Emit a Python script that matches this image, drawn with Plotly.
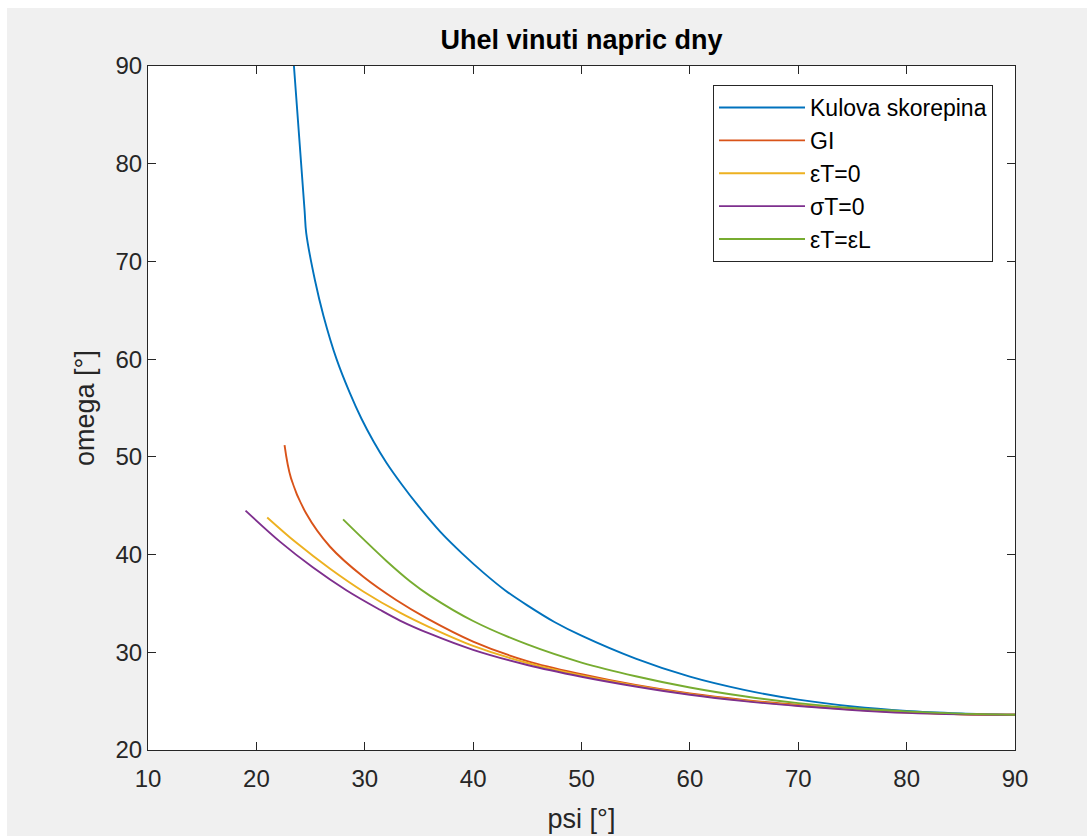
import plotly.graph_objects as go

# ---- data ----
psi_kulova = [23.0, 24.45, 24.6, 25.4, 26.2, 27.4, 28.6, 29.7, 30.8, 32.0, 33.4, 35.0, 37.0,
              39.0, 41.0, 43.0, 45.0, 47.5, 50.0, 55.0, 60.0, 65.0, 70.0, 75.0, 80.0, 85.0, 90.0]
omega_kulova = [97.0, 75.2, 72.9, 68.1, 64.4, 60.0, 56.6, 53.9, 51.6, 49.4, 47.2, 44.9, 42.3,
                40.1, 38.1, 36.3, 34.8, 33.1, 31.7, 29.35, 27.5, 26.15, 25.15, 24.45, 24.0, 23.75, 23.6]

psi_gl = [22.6, 23.2, 24.6, 26.8, 29.9, 32.9, 35.7, 40.0, 45.0, 50.0, 55.0, 60.0, 65.0,
          70.0, 75.0, 80.0, 85.0, 90.0]
omega_gl = [51.2, 47.8, 44.2, 40.8, 37.7, 35.35, 33.5, 31.1, 29.1, 27.75, 26.65, 25.78, 25.12,
            24.62, 24.17, 23.85, 23.66, 23.6]

psi_epsT0 = [21.0, 23.7, 26.8, 29.9, 33.25, 36.0, 40.0, 45.0, 50.0, 55.0, 60.0, 65.0,
             70.0, 75.0, 80.0, 85.0, 90.0]
omega_epsT0 = [43.8, 41.2, 38.55, 36.2, 34.05, 32.55, 30.65, 28.9, 27.62, 26.58, 25.72, 25.05,
               24.55, 24.13, 23.82, 23.66, 23.6]

psi_sigT0 = [19.0, 22.2, 25.2, 28.3, 31.4, 33.25, 36.0, 40.0, 45.0, 50.0, 55.0, 60.0, 65.0,
             70.0, 75.0, 80.0, 85.0, 90.0]
omega_sigT0 = [44.5, 41.3, 38.7, 36.35, 34.35, 33.25, 31.9, 30.25, 28.7, 27.5, 26.5, 25.65, 25.0,
               24.5, 24.1, 23.8, 23.65, 23.6]

psi_epsTL = [28.0, 29.9, 32.0, 34.2, 36.0, 40.0, 45.0, 50.0, 55.0, 60.0, 65.0, 70.0, 75.0,
             80.0, 85.0, 90.0]
omega_epsTL = [43.6, 41.55, 39.35, 37.25, 35.8, 33.2, 30.8, 28.95, 27.55, 26.4, 25.5, 24.8, 24.3,
               23.95, 23.72, 23.6]

series_names = ["Kulova skorepina", "GI", "\u03b5T=0", "\u03c3T=0", "\u03b5T=\u03b5L"]
series_colors = ["#0072BD", "#D95319", "#EDB120", "#7E2F8E", "#77AC30"]
x_ticks = [10, 20, 30, 40, 50, 60, 70, 80, 90]
y_ticks = [20, 30, 40, 50, 60, 70, 80, 90]

W, H = 1087, 836
L, R, T, B = 148, 1015, 66, 750

fig = go.Figure()
data = [(psi_kulova, omega_kulova), (psi_gl, omega_gl), (psi_epsT0, omega_epsT0),
        (psi_sigT0, omega_sigT0), (psi_epsTL, omega_epsTL)]
for (xs, ys), name, col in zip(data, series_names, series_colors):
    fig.add_trace(go.Scatter(x=xs, y=ys, mode="lines", name=name,
                             line=dict(color=col, width=1.9, shape="spline", smoothing=1.0)))

axis_col = "#262626"
font_fam = "Liberation Sans, Arial, sans-serif"

fig.update_layout(
    width=W, height=H,
    margin=dict(l=L, r=W - R, t=T, b=H - B, autoexpand=False),
    paper_bgcolor="#f0f0f0",
    plot_bgcolor="white",
    font=dict(family=font_fam, size=24, color=axis_col),
    title=dict(text="<b>Uhel vinuti napric dny</b>", x=(L + R) / 2 / W, xanchor="center",
               y=1 - 40 / H, yanchor="middle", xref="container", yref="container",
               font=dict(size=27, color="#000000", family=font_fam)),
    showlegend=True,
    legend=dict(x=(993 - L) / (R - L), y=(B - 85) / (B - T), xanchor="right", yanchor="top",
                bgcolor="white", bordercolor=axis_col, borderwidth=1,
                font=dict(size=23, color="#000000", family=font_fam),
                itemwidth=86, tracegroupgap=0),
    xaxis=dict(range=[10, 90], tickvals=x_ticks, ticks="inside", ticklen=8, tickcolor=axis_col,
               showline=True, linecolor=axis_col, linewidth=1, mirror="ticks",
               showgrid=False, zeroline=False, ticklabelstandoff=7, automargin=False,
               tickfont=dict(size=24, color=axis_col),
               title=dict(text="psi [\u00b0]", font=dict(size=27, color=axis_col), standoff=18)),
    yaxis=dict(range=[20, 90], tickvals=y_ticks, ticks="inside", ticklen=8, tickcolor=axis_col,
               showline=True, linecolor=axis_col, linewidth=1, mirror="ticks",
               showgrid=False, zeroline=False, automargin=False,
               tickfont=dict(size=24, color=axis_col),
               title=dict(text="omega [\u00b0]", font=dict(size=27, color=axis_col), standoff=13)),
    shapes=[
        dict(type="rect", xref="paper", yref="paper",
             x0=-L / (R - L) - 0.01, x1=(W - L) / (R - L) + 0.01,
             y0=(B - 8) / (B - T), y1=(B + 10) / (B - T),
             fillcolor="white", line=dict(width=0), layer="below"),
        dict(type="rect", xref="paper", yref="paper",
             x0=-L / (R - L) - 0.01, x1=-(L - 7) / (R - L),
             y0=-(H - B) / (B - T) - 0.01, y1=(B + 10) / (B - T),
             fillcolor="white", line=dict(width=0), layer="below"),
    ],
)

fig.write_html("out.html")
